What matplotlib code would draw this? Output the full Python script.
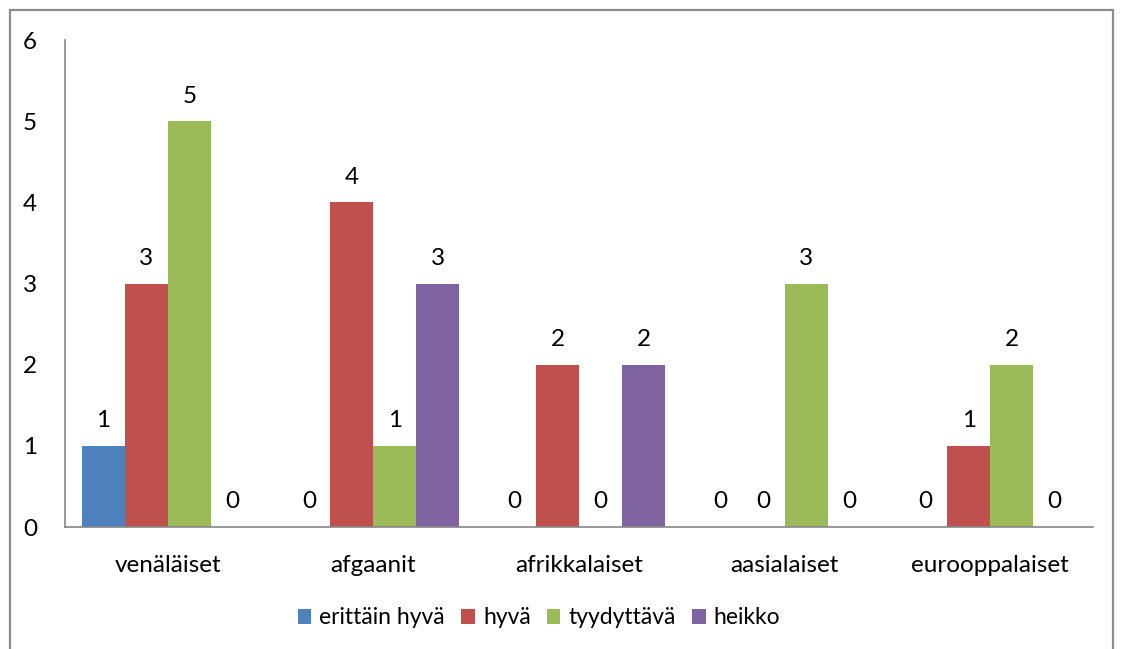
import matplotlib.pyplot as plt
import numpy as np
from matplotlib.patches import Rectangle

categories = ["venäläiset", "afgaanit", "afrikkalaiset", "aasialaiset", "eurooppalaiset"]
series_names = ["erittäin hyvä", "hyvä", "tyydyttävä", "heikko"]
erittain_hyva = [1, 0, 0, 0, 0]
hyva = [3, 4, 2, 0, 1]
tyydyttava = [5, 1, 0, 3, 2]
heikko = [0, 3, 2, 0, 0]
colors = ["#4F81BD", "#C0504D", "#9BBB59", "#8064A2"]

plt.rcParams['font.family'] = ['Lato', 'DejaVu Sans']
fs = 17.5

W, H = 1122, 649
fig = plt.figure(figsize=(W / 100, H / 100), dpi=100)
ax = fig.add_axes([65 / W, 1 - 527 / H, (1093 - 65) / W, (527 - 40) / H])

# outer chart border (bottom edge falls off the canvas)
fig.patches.append(Rectangle((10 / W, -0.05), 1103 / W, 1.05 - 10 / H,
                             transform=fig.transFigure, fill=False,
                             edgecolor="#8c8c8c", linewidth=1.6))

x = np.arange(len(categories))
bw = 0.209
for i, (vals, name) in enumerate(zip([erittain_hyva, hyva, tyydyttava, heikko], series_names)):
    pos = x + (i - 1.5) * bw
    ax.bar(pos, vals, width=bw, color=colors[i], label=name, linewidth=0)
    for p, v in zip(pos, vals):
        ax.text(p, v + 0.18, str(v), ha="center", va="bottom", fontsize=fs)

ax.set_xlim(-0.5, len(categories) - 0.5)
ax.set_ylim(0, 6)
ax.set_yticks(range(7))
ax.set_xticks(x)
ax.set_xticklabels(categories)
ax.tick_params(axis="y", length=0, pad=20, labelsize=fs)
ax.tick_params(axis="x", length=0, pad=20, labelsize=fs)
for s in ["top", "right"]:
    ax.spines[s].set_visible(False)
for s in ["left", "bottom"]:
    ax.spines[s].set_color("#868686")
    ax.spines[s].set_linewidth(1.2)

fig.legend(loc="center", bbox_to_anchor=(539 / W, 1 - 618 / H), ncol=4, frameon=False,
           fontsize=16.5, handlelength=0.6, handleheight=0.6, handletextpad=0.35,
           columnspacing=0.7)

fig.savefig("out.png", dpi=100)
